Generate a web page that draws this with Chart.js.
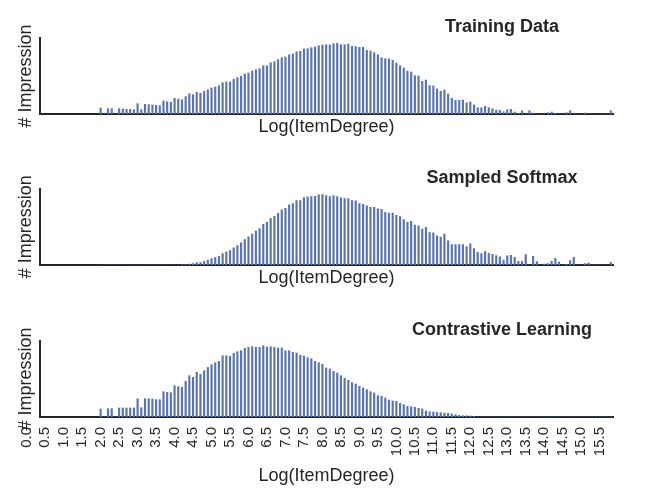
<!DOCTYPE html>
<html><head><meta charset="utf-8">
<script src="https://cdn.jsdelivr.net/npm/chart.js@4.4.1/dist/chart.umd.min.js"></script>
<style>
html,body{margin:0;padding:0;background:#fff;width:648px;height:504px;overflow:hidden;}
canvas{position:absolute;left:0;}
</style></head><body>
<canvas id="c1" width="648" height="138" style="top:0px"></canvas>
<canvas id="c2" width="648" height="139" style="top:150px"></canvas>
<canvas id="c3" width="648" height="187" style="top:300px"></canvas>
<script>
// ---- data ----
const bins = [
 2.0,2.1,2.2,2.3,2.4,2.5,2.6,2.7,2.8,2.9,
 3.0,3.1,3.2,3.3,3.4,3.5,3.6,3.7,3.8,3.9,
 4.0,4.1,4.2,4.3,4.4,4.5,4.6,4.7,4.8,4.9,
 5.0,5.1,5.2,5.3,5.4,5.5,5.6,5.7,5.8,5.9,
 6.0,6.1,6.2,6.3,6.4,6.5,6.6,6.7,6.8,6.9,
 7.0,7.1,7.2,7.3,7.4,7.5,7.6,7.7,7.8,7.9,
 8.0,8.1,8.2,8.3,8.4,8.5,8.6,8.7,8.8,8.9,
 9.0,9.1,9.2,9.3,9.4,9.5,9.6,9.7,9.8,9.9,
 10.0,10.1,10.2,10.3,10.4,10.5,10.6,10.7,10.8,10.9,
 11.0,11.1,11.2,11.3,11.4,11.5,11.6,11.7,11.8,11.9,
 12.0,12.1,12.2,12.3,12.4,12.5,12.6,12.7,12.8,12.9,
 13.0,13.1,13.2,13.3,13.4,13.5,13.6,13.7,13.8,13.9,
 14.0,14.1,14.2,14.3,14.4,14.5,14.6,14.7,14.8,14.9,
 15.0,15.1,15.2,15.3,15.4,15.5,15.6,15.7,15.8
];
const tickValues = [0,0.5,1,1.5,2,2.5,3,3.5,4,4.5,5,5.5,6,6.5,7,7.5,8,8.5,9,9.5,10,10.5,11,11.5,12,12.5,13,13.5,14,14.5,15,15.5];
const tickLabels = ['0.0','0.5','1.0','1.5','2.0','2.5','3.0','3.5','4.0','4.5','5.0','5.5','6.0','6.5','7.0','7.5','8.0','8.5','9.0','9.5','10.0','10.5','11.0','11.5','12.0','12.5','13.0','13.5','14.0','14.5','15.0','15.5'];

const trainingData = [
 6,0,5.3,5.3,0,5.3,5,4.7,4.7,4.3,
 10.3,4.3,9.7,9.3,9,8.7,8.3,13,12.3,11.7,
 15.7,15,14.3,17.3,20.3,19.3,21.7,20.7,22.7,24.3,
 26,27,28.3,31.3,32,32,34.7,36.3,37.7,40,
 41,43,44.3,45.3,48.3,48.3,51.3,52.3,54.3,56.3,
 57,59.3,60,62.3,62.7,65,65.3,66.3,67,68.3,
 69,69.3,69,70.3,70.7,69.3,69.3,70,67.7,67.5,
 66.7,66.7,63.7,63,61.3,59.3,56.3,55.3,55,53.7,
 51,48.3,46,43,42,38.3,38,32.7,34,28.3,
 28,25,22.7,24,20,15.7,13.7,13.7,14,11.3,
 12,9,6.3,6.3,7.7,6.3,5.3,4,3.7,2.3,
 4.3,4.7,2,0.7,3.3,0,3.3,1,0,0,
 0,1.3,2,0.7,0,0,1.3,3.3,0,0,
 0,1,0,0,0,0,0,0,3.3
];
const sampledSoftmax = [
 0,0,0,0,0,0,0,0,0,0,
 0,0,0,0,0,0,0,0,0,0,
 0,0,0.3,0.5,1,1.3,2.3,2.3,3.7,5,
 6.3,7.3,8.7,11.3,13,14.3,17,19.3,22,25.3,
 28,30.7,33.7,36.3,40.3,42.3,46.3,48.3,51.3,54.7,
 56.3,59.7,61,64,64,67,67.7,68,68.3,69.7,
 70,69,68,69,68,66.7,66,66,64,63.7,
 61,60.3,58.7,57.3,57.3,55.7,55.3,52.3,51.7,51.7,
 49.3,48,45,42.3,43.3,39.7,39,35.7,37.3,32.3,
 32,29,27.7,30.7,24,20.3,20.3,20.3,20.3,18.3,
 21,16.3,12.7,11.3,13.3,11.7,10.7,9.3,8,5,
 9,9.7,7.7,3.7,3.7,10.3,0,8.7,3.3,0,
 1,1.3,3.7,6.7,3,0,0.7,4.3,7.7,0,
 0,1.3,2,0,0,0,0,0,2.7
];
const contrastiveLearning = [
 8,0,8.3,8.3,0,9,9,9,9,9,
 18.3,9.3,18.3,18.3,18,17.3,17.3,25.3,24.7,24.3,
 31.3,30.3,29.7,35.7,41.3,39.7,44.7,42.7,46.3,49.5,
 52.3,54.3,55.7,61.3,61.3,60.7,63.7,65.3,66.3,68.7,
 69.7,70.3,69.7,69.7,71.3,70,70.3,69.7,69,69,
 66.3,66.3,64.7,64,61.7,61,59.3,58.3,55.7,54.3,
 52.7,49,48,45.7,44,41.3,38.7,36.7,34.3,33,
 30.7,29,27.3,25.3,24,21.3,20.7,19,17,16,
 15.7,13.7,12.3,10.7,10.3,9.7,8.7,8,6,5.3,
 5,4.7,4.3,4,3.7,3,2.3,1.7,1.3,1.2,
 1,0.8,0,0,0,0,0,0,0,0,
 0,0,0,0,0,0,0,0,0,0,
 0,0,0,0,0,0,0,0,0,0,
 0,0,0,0,0,0,0,0,0
];
const panelTitles = ['Training Data','Sampled Softmax','Contrastive Learning'];
const xAxisTitle = 'Log(ItemDegree)';
const yAxisTitle = '# Impression';

// ---- styling ----
const INK = '#262626';
const BAR = '#5a74ad';
const FONT = "'Liberation Sans', Arial, Helvetica, sans-serif";

const titlePlugin = {
  id: 'panelTitle',
  afterDraw(chart, args, o) {
    const {ctx, chartArea} = chart;
    ctx.save();
    ctx.font = 'bold 18px ' + FONT;
    ctx.fillStyle = INK;
    ctx.textAlign = 'center';
    ctx.textBaseline = 'alphabetic';
    ctx.fillText(o.text, o.x, chartArea.top - o.dy);
    ctx.restore();
  }
};

function makePanel(id, values, title, padTop, xHeight, showTicks) {
  return new Chart(document.getElementById(id), {
    type: 'bar',
    data: {
      datasets: [{
        data: bins.map((b, i) => ({x: b, y: values[i]})),
        backgroundColor: BAR,
        borderWidth: 0,
        barThickness: 1.5
      }]
    },
    options: {
      responsive: false,
      animation: false,
      devicePixelRatio: 1,
      layout: {padding: {left: 0, right: 35, top: padTop, bottom: 0}},
      plugins: {
        legend: {display: false},
        tooltip: {enabled: false},
        panelTitle: {text: title, x: 502, dy: 6}
      },
      scales: {
        x: {
          type: 'linear', min: 0.36, max: 15.86, offset: false, bounds: 'data',
          grid: {display: false, drawTicks: false},
          border: {display: true, color: INK, width: 2},
          ticks: {
            display: showTicks, autoSkip: false, minRotation: 90, maxRotation: 90,
            padding: 10, color: INK, font: {family: FONT, size: 15},
            callback: (v, i) => tickLabels[i]
          },
          afterBuildTicks: (s) => { s.ticks = tickValues.map(v => ({value: v})); },
          afterFit: (s) => { s.height = xHeight; s.paddingLeft = 0; s.paddingRight = 0; },
          title: {display: true, text: xAxisTitle, color: INK, font: {family: FONT, size: 18}, padding: {top: 0, bottom: 0}}
        },
        y: {
          min: 0, max: 76,
          grid: {display: false, drawTicks: false},
          border: {display: true, color: INK, width: 2},
          ticks: {display: false},
          afterFit: (s) => { s.width = 40; },
          title: {display: true, text: yAxisTitle, color: INK, font: {family: FONT, size: 18}, padding: {top: 15, bottom: 0}}
        }
      }
    },
    plugins: [titlePlugin]
  });
}

makePanel('c1', trainingData, panelTitles[0], 38, 24, false);
makePanel('c2', sampledSoftmax, panelTitles[1], 38.5, 24, false);
makePanel('c3', contrastiveLearning, panelTitles[2], 41, 70, true);
</script>
</body></html>
